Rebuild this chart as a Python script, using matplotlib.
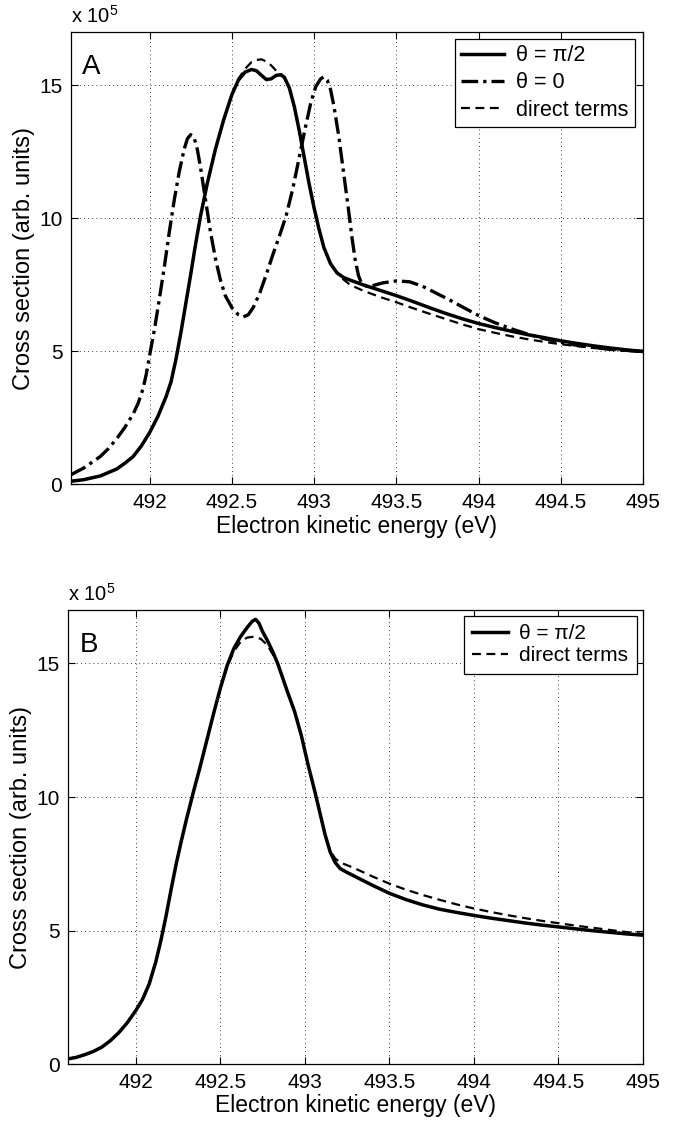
import matplotlib
matplotlib.use('Agg')
import matplotlib.pyplot as plt

plt.rcParams['font.family'] = ['Liberation Sans', 'DejaVu Sans']

# x tick values / labels shared by both panels
xticks = [492, 492.5, 493, 493.5, 494, 494.5, 495]
xtick_labels = ['492', '492.5', '493', '493.5', '494', '494.5', '495']
yticks = [0, 5, 10, 15]
ytick_labels = ['0', '5', '10', '15']

# Panel A: theta = pi/2
energy_a_perp = [491.52, 491.60, 491.70, 491.80, 491.85, 491.90, 491.95, 492.00, 492.05, 492.10,
                 492.13, 492.16, 492.19, 492.22, 492.25, 492.28, 492.31, 492.35, 492.40, 492.45,
                 492.50, 492.54, 492.58, 492.62, 492.65, 492.68, 492.71, 492.74, 492.77, 492.80,
                 492.82, 492.85, 492.88, 492.91, 492.94, 492.97, 493.00, 493.03, 493.06, 493.10,
                 493.14, 493.18, 493.22, 493.30, 493.40, 493.50, 493.60, 493.70, 493.80, 493.90,
                 494.00, 494.10, 494.20, 494.30, 494.40, 494.50, 494.60, 494.70, 494.80, 494.90,
                 495.00]
cs_a_perp = [0.12, 0.18, 0.32, 0.58, 0.80, 1.05, 1.45, 1.95, 2.55, 3.30,
             3.85, 4.70, 5.70, 6.80, 7.90, 9.05, 10.10, 11.30, 12.60, 13.70,
             14.65, 15.20, 15.50, 15.60, 15.55, 15.38, 15.22, 15.25, 15.38, 15.40,
             15.30, 14.90, 14.20, 13.30, 12.30, 11.30, 10.40, 9.60, 8.90, 8.30,
             7.95, 7.78, 7.68, 7.50, 7.30, 7.10, 6.88, 6.65, 6.43, 6.23,
             6.05, 5.90, 5.76, 5.63, 5.52, 5.40, 5.30, 5.21, 5.13, 5.06,
             5.00]

# Panel A: theta = 0
energy_a_par = [491.52, 491.60, 491.70, 491.75, 491.80, 491.85, 491.90, 491.93, 491.96, 491.98,
                492.00, 492.03, 492.06, 492.09, 492.12, 492.15, 492.18, 492.21, 492.23, 492.25,
                492.27, 492.29, 492.31, 492.34, 492.37, 492.40, 492.43, 492.46, 492.50, 492.54,
                492.57, 492.60, 492.63, 492.67, 492.71, 492.75, 492.79, 492.83, 492.87, 492.91,
                492.95, 492.98, 493.01, 493.04, 493.06, 493.08, 493.10, 493.12, 493.15, 493.18,
                493.21, 493.23, 493.25, 493.27, 493.29, 493.32, 493.36, 493.42, 493.50, 493.58,
                493.66, 493.74, 493.82, 493.90, 494.00, 494.10, 494.20, 494.30, 494.40, 494.50,
                494.60, 494.70, 494.80, 494.90, 495.00]
cs_a_par = [0.36, 0.62, 1.05, 1.35, 1.72, 2.15, 2.65, 3.05, 3.60, 4.15,
            4.85, 5.85, 7.00, 8.20, 9.50, 10.70, 11.75, 12.60, 13.00, 13.15,
            13.05, 12.60, 11.90, 10.70, 9.50, 8.50, 7.70, 7.10, 6.65, 6.38,
            6.30, 6.38, 6.65, 7.20, 7.90, 8.65, 9.35, 10.10, 11.10, 12.30,
            13.50, 14.35, 14.95, 15.25, 15.32, 15.20, 14.85, 14.25, 13.10, 11.70,
            10.30, 9.30, 8.45, 7.85, 7.55, 7.45, 7.48, 7.58, 7.65, 7.62,
            7.45, 7.20, 6.95, 6.68, 6.35, 6.08, 5.85, 5.65, 5.48, 5.34,
            5.23, 5.15, 5.08, 5.03, 5.00]

# Panel A: direct terms
energy_a_dir = [491.52, 491.60, 491.70, 491.80, 491.85, 491.90, 491.95, 492.00, 492.05, 492.10,
                492.13, 492.16, 492.19, 492.22, 492.25, 492.28, 492.31, 492.35, 492.40, 492.45,
                492.50, 492.54, 492.58, 492.62, 492.65, 492.68, 492.71, 492.74, 492.77, 492.80,
                492.82, 492.85, 492.88, 492.91, 492.94, 492.97, 493.00, 493.03, 493.06, 493.10,
                493.14, 493.18, 493.22, 493.30, 493.40, 493.50, 493.60, 493.70, 493.80, 493.90,
                494.00, 494.10, 494.20, 494.30, 494.40, 494.50, 494.60, 494.70, 494.80, 494.90,
                495.00]
cs_a_dir = [0.12, 0.18, 0.32, 0.58, 0.80, 1.05, 1.45, 1.95, 2.55, 3.30,
            3.85, 4.70, 5.70, 6.80, 7.90, 9.05, 10.10, 11.30, 12.60, 13.70,
            14.65, 15.25, 15.62, 15.88, 15.96, 15.98, 15.90, 15.75, 15.55, 15.38,
            15.28, 14.90, 14.20, 13.30, 12.30, 11.30, 10.40, 9.60, 8.90, 8.30,
            7.95, 7.70, 7.50, 7.28, 7.05, 6.85, 6.63, 6.42, 6.22, 6.02,
            5.84, 5.70, 5.57, 5.46, 5.36, 5.27, 5.20, 5.13, 5.07, 5.02,
            4.98]

# Panel B: theta = pi/2
energy_b_perp = [491.60, 491.65, 491.70, 491.75, 491.80, 491.85, 491.90, 491.95, 492.00, 492.04,
                 492.08, 492.12, 492.15, 492.18, 492.21, 492.24, 492.27, 492.30, 492.34, 492.38,
                 492.42, 492.46, 492.50, 492.54, 492.58, 492.62, 492.66, 492.69, 492.71, 492.73,
                 492.75, 492.78, 492.81, 492.84, 492.87, 492.90, 492.94, 492.98, 493.02, 493.06,
                 493.09, 493.12, 493.15, 493.18, 493.21, 493.25, 493.30, 493.40, 493.50, 493.60,
                 493.70, 493.80, 493.90, 494.00, 494.10, 494.20, 494.30, 494.40, 494.50, 494.60,
                 494.70, 494.80, 494.90, 495.00]
cs_b_perp = [0.20, 0.26, 0.36, 0.48, 0.64, 0.88, 1.18, 1.55, 2.00, 2.42,
             3.00, 3.85, 4.65, 5.55, 6.55, 7.50, 8.35, 9.15, 10.15, 11.10,
             12.10, 13.10, 14.05, 14.90, 15.55, 16.00, 16.35, 16.58, 16.65, 16.50,
             16.20, 15.85, 15.45, 15.00, 14.45, 13.90, 13.20, 12.30, 11.20, 10.20,
             9.40, 8.60, 7.95, 7.55, 7.32, 7.18, 7.02, 6.70, 6.40, 6.16,
             5.96, 5.80, 5.68, 5.57, 5.47, 5.38, 5.29, 5.21, 5.14, 5.07,
             5.00, 4.94, 4.88, 4.83]

# Panel B: direct terms
energy_b_dir = [491.60, 491.65, 491.70, 491.75, 491.80, 491.85, 491.90, 491.95, 492.00, 492.04,
                492.08, 492.12, 492.15, 492.18, 492.21, 492.24, 492.27, 492.30, 492.34, 492.38,
                492.42, 492.46, 492.50, 492.54, 492.58, 492.62, 492.66, 492.70, 492.74, 492.78,
                492.81, 492.84, 492.87, 492.90, 492.94, 492.98, 493.02, 493.06, 493.09, 493.12,
                493.15, 493.18, 493.21, 493.25, 493.30, 493.40, 493.50, 493.60, 493.70, 493.80,
                493.90, 494.00, 494.10, 494.20, 494.30, 494.40, 494.50, 494.60, 494.70, 494.80,
                494.90, 495.00]
cs_b_dir = [0.20, 0.26, 0.36, 0.48, 0.64, 0.88, 1.18, 1.55, 2.00, 2.42,
            3.00, 3.85, 4.65, 5.55, 6.55, 7.50, 8.35, 9.15, 10.15, 11.10,
            12.10, 13.10, 14.05, 14.85, 15.45, 15.80, 15.97, 16.00, 15.92, 15.68,
            15.35, 15.00, 14.45, 13.90, 13.20, 12.30, 11.20, 10.20, 9.40, 8.60,
            8.00, 7.70, 7.55, 7.45, 7.32, 7.03, 6.76, 6.53, 6.33, 6.15,
            5.98, 5.83, 5.70, 5.58, 5.47, 5.37, 5.28, 5.19, 5.11, 5.03,
            4.95, 4.88]


def style_axes(ax, xmin, letter):
    ax.set_xlim(xmin, 495)
    ax.set_ylim(0, 17)
    ax.set_xticks(xticks)
    ax.set_xticklabels(xtick_labels)
    ax.set_yticks(yticks)
    ax.set_yticklabels(ytick_labels)
    ax.tick_params(direction='in', top=True, right=True, length=5, width=0.8,
                   labelsize=15, pad=6)
    ax.grid(True, color='black', linestyle=(0, (1, 4)), linewidth=0.6)
    for s in ax.spines.values():
        s.set_linewidth(0.9)
    ax.set_xlabel('Electron kinetic energy (eV)', fontsize=16.5, labelpad=2)
    ax.set_ylabel('Cross section (arb. units)', fontsize=17, labelpad=3)
    ax.text(0.0, 1.012, r'x 10$^{\mathregular{5}}$', transform=ax.transAxes,
            fontsize=14.5, ha='left', va='bottom')
    ax.text(0.02, 0.908, letter, transform=ax.transAxes, fontsize=20,
            ha='left', va='baseline')


fig = plt.figure(figsize=(6.73, 11.23), dpi=100)

axA = fig.add_axes([0.105, 0.5686, 0.8504, 0.4027])
axA.plot(energy_a_perp, cs_a_perp, color='black', lw=2.5, ls='-', label='θ = π/2')
axA.plot(energy_a_par, cs_a_par, color='black', lw=2.4, ls=(0, (5, 1.5, 1, 1.5)), label='θ = 0')
axA.plot(energy_a_dir, cs_a_dir, color='black', lw=1.6, ls=(0, (4, 2.5)), label='direct terms')
style_axes(axA, 491.52, 'A')
legA = axA.legend(loc='upper right', bbox_to_anchor=(0.986, 0.985), borderaxespad=0,
                  fontsize=15.5, fancybox=False, framealpha=1, edgecolor='black',
                  handlelength=2.0, handletextpad=0.55, labelspacing=0.28,
                  borderpad=0.3)
legA.get_frame().set_linewidth(0.9)

axB = fig.add_axes([0.101, 0.0523, 0.8544, 0.4045])
axB.plot(energy_b_perp, cs_b_perp, color='black', lw=2.5, ls='-', label='θ = π/2')
axB.plot(energy_b_dir, cs_b_dir, color='black', lw=1.6, ls=(0, (4, 2.5)), label='direct terms')
style_axes(axB, 491.6, 'B')
legB = axB.legend(loc='upper right', bbox_to_anchor=(0.989, 0.987), borderaxespad=0,
                  fontsize=15, fancybox=False, framealpha=1, edgecolor='black',
                  handlelength=1.7, handletextpad=0.55, labelspacing=0.15,
                  borderpad=0.4)
legB.get_frame().set_linewidth(0.9)

fig.savefig('out.png', dpi=100)
